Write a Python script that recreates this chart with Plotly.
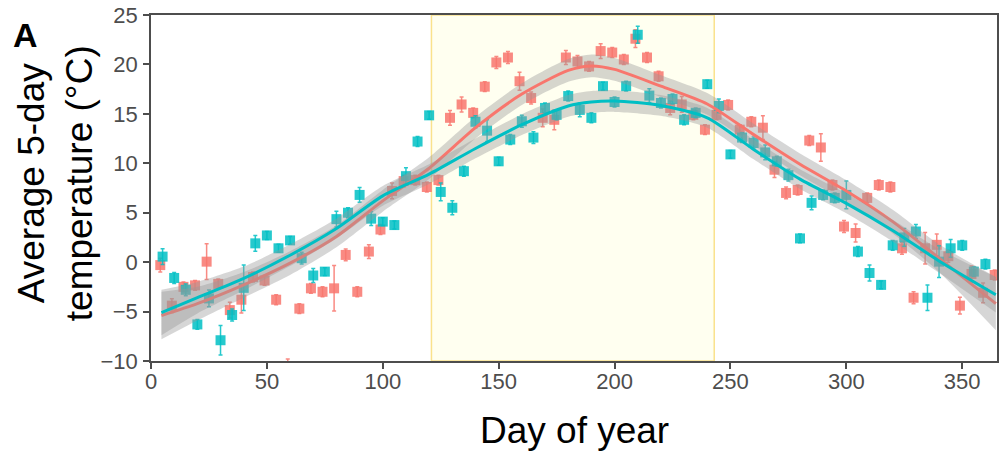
import plotly.graph_objects as go

# ---- data ----
days = [4.5, 9.5, 14.5, 19.5, 24.5, 29.5, 34.5, 39.5, 44.5, 49.5,
        54.5, 59.5, 64.5, 69.5, 74.5, 79.5, 84.5, 89.5, 94.5, 99.5,
        104.5, 109.5, 114.5, 119.5, 124.5, 129.5, 134.5, 139.5, 144.5, 149.5,
        154.5, 159.5, 164.5, 169.5, 174.5, 179.5, 184.5, 189.5, 194.5, 199.5,
        204.5, 209.5, 214.5, 219.5, 224.5, 229.5, 234.5, 239.5, 244.5, 249.5,
        254.5, 259.5, 264.5, 269.5, 274.5, 279.5, 284.5, 289.5, 294.5, 299.5,
        304.5, 309.5, 314.5, 319.5, 324.5, 329.5, 334.5, 339.5, 344.5, 349.5,
        354.5, 359.5, 364.5]

red_temp = [-0.3, -4.4, -2.5, -2.35, 0.05, -2.2, -4.85, -3.8, -1.5, -1.85,
            -3.8, -10.8, -4.7, -2.65, -3.0, -2.65, 0.73, -3.0, 1.07, 3.3,
            7.2, 8.2, 8.3, 7.6, 8.3, 14.6, 15.95, 15.1, 17.75, 20.2,
            20.7, 18.3, 16.6, 14.6, 14.4, 20.7, 20.3, 19.8, 21.35, 21.2,
            20.5, 22.6, 20.7, 18.8, 15.6, 15.95, 14.9, 13.4, 14.9, 15.9,
            13.4, 14.2, 13.6, 9.35, 7.0, 7.3, 12.3, 11.6, 7.8, 3.6,
            2.95, 6.5, 7.8, 7.6, 1.4, -3.6, 1.4, 1.75, 0.6, -4.4,
            -1.2, -3.1, -1.3]

red_err = [0.7, 0.7, 0.5, 0.5, 1.8, 0.5, 0.8, 1.35, 0.5, 0.5,
           0.5, 1.0, 0.5, 0.5, 0.5, 2.3, 0.6, 0.5, 0.7, 0.5,
           0.8, 0.6, 0.5, 0.5, 0.5, 0.75, 0.75, 0.5, 0.5, 0.6,
           0.6, 0.9, 0.6, 0.9, 1.0, 0.7, 0.6, 0.5, 0.75, 0.5,
           0.5, 0.9, 0.5, 0.5, 0.7, 0.8, 0.5, 0.5, 0.5, 0.5,
           0.5, 0.5, 1.2, 0.8, 0.6, 0.5, 0.5, 1.4, 0.5, 0.6,
           0.9, 0.5, 0.5, 0.5, 0.6, 0.6, 1.6, 1.1, 0.6, 0.85,
           0.8, 1.0, 0.5]

teal_temp = [0.56, -1.6, -2.8, -6.3, -3.67, -7.9, -5.35, -2.6, 1.9, 2.7,
             1.4, 2.2, 0.4, -1.35, -0.96, 4.35, 5.0, 6.8, 4.4, 4.1,
             3.75, 8.7, 12.2, 14.85, 7.1, 5.5, 9.2, 14.2, 13.3, 10.2,
             12.4, 14.25, 12.6, 15.6, 14.9, 16.8, 15.4, 14.6, 17.8, 16.2,
             17.8, 23.0, 16.85, 16.1, 16.5, 14.4, 15.1, 18.0, 15.8, 10.9,
             12.6, 12.05, 11.1, 10.2, 8.8, 2.4, 6.0, 6.8, 6.5, 6.8,
             1.07, -1.1, -2.3, 1.7, 2.5, 3.1, -3.6, 0.05, 1.4, 1.7,
             -0.96, -0.2, None]

teal_err = [0.8, 0.55, 0.6, 0.5, 0.85, 1.5, 0.6, 2.3, 0.8, 0.4,
            0.4, 0.4, 0.6, 0.7, 0.4, 0.8, 0.5, 0.75, 0.7, 0.4,
            0.4, 0.85, 0.5, 0.4, 0.9, 0.7, 0.5, 0.6, 1.1, 0.4,
            0.5, 0.6, 0.6, 0.5, 0.5, 0.5, 0.7, 0.5, 0.4, 0.5,
            0.5, 0.85, 0.7, 0.5, 0.5, 0.5, 0.5, 0.4, 0.7, 0.4,
            0.5, 0.6, 0.75, 0.5, 0.6, 0.45, 0.7, 0.5, 0.5, 1.4,
            0.5, 0.8, 0.4, 0.5, 0.9, 0.7, 1.3, 1.6, 0.9, 0.5,
            0.5, 0.5, 0.0]

# smoothed fits
fit_days = [4.5, 20, 40, 60, 80, 100, 120, 140, 160, 180, 190, 200,
            220, 240, 260, 280, 300, 320, 340, 364.5]
red_fit = [-5.4, -4.2, -2.3, -0.1, 2.6, 6.2, 9.5, 13.6, 17.0, 19.4, 19.85, 19.5,
           17.8, 16.0, 12.9, 9.9, 7.2, 4.1, 0.4, -4.2]
red_band = [2.4, 1.7, 1.3, 1.2, 1.1, 1.1, 1.1, 1.1, 1.1, 1.15, 1.15, 1.15,
            1.1, 1.1, 1.1, 1.1, 1.1, 1.2, 1.4, 2.7]
teal_fit = [-5.1, -3.6, -1.65, 0.7, 3.4, 6.7, 8.9, 11.5, 13.9, 15.8, 16.2, 16.3,
            15.85, 14.6, 11.4, 8.4, 5.95, 3.2, 0.12, -3.3]
teal_band = [2.3, 1.6, 1.2, 1.1, 1.0, 1.0, 1.0, 1.0, 1.05, 1.1, 1.1, 1.1,
             1.05, 1.0, 1.0, 1.0, 1.0, 1.1, 1.2, 1.8]

summer_start, summer_end = 121, 243
x_ticks = [0, 50, 100, 150, 200, 250, 300, 350]
y_ticks = [-10, -5, 0, 5, 10, 15, 20, 25]

# ---- styling ----
RED = "#F8766D"
TEAL = "#00BFC4"
RED_A = "rgba(248,118,109,0.85)"
TEAL_A = "rgba(0,191,196,0.85)"
BAND = "rgba(153,153,153,0.4)"
FONT = "Liberation Sans, Arial, sans-serif"
DODGE = 0.5
SMOOTH = 0.7

W, H = 1001, 456
ML, MR, MT, MB = 151, 2, 15, 95
PW, PH = W - ML - MR, H - MT - MB


def px_to_paper(px, py):
    return (px - ML) / PW, (H - MB - py) / PH


fig = go.Figure()

# points with error bars
for name, vals, errs, col, off in [("red", red_temp, red_err, RED_A, -DODGE),
                                   ("teal", teal_temp, teal_err, TEAL_A, DODGE)]:
    fig.add_trace(go.Scatter(
        x=[d + off for d in days], y=vals, mode="markers",
        marker=dict(symbol="square", size=10, color=col, line=dict(width=0)),
        error_y=dict(type="data", array=errs, visible=True, color=col,
                     thickness=1.5, width=2),
        showlegend=False, hoverinfo="x+y", name=name))

# smooth ribbons and lines (red group then teal group)
for fit, band, col in [(red_fit, red_band, RED), (teal_fit, teal_band, TEAL)]:
    lower = [f - b for f, b in zip(fit, band)]
    upper = [f + b for f, b in zip(fit, band)]
    fig.add_trace(go.Scatter(x=fit_days, y=lower, mode="lines",
                             line=dict(width=0, shape="spline", smoothing=SMOOTH),
                             showlegend=False, hoverinfo="skip"))
    fig.add_trace(go.Scatter(x=fit_days, y=upper, mode="lines", fill="tonexty",
                             fillcolor=BAND,
                             line=dict(width=0, shape="spline", smoothing=SMOOTH),
                             showlegend=False, hoverinfo="skip"))
    fig.add_trace(go.Scatter(x=fit_days, y=fit, mode="lines",
                             line=dict(color=col, width=3, shape="spline", smoothing=SMOOTH),
                             showlegend=False))

# summer shading
fig.add_shape(type="rect", xref="x", yref="paper", x0=summer_start, x1=summer_end,
              y0=0, y1=1, fillcolor="#FFFFF0", line=dict(color="#FAE28C", width=1.5),
              layer="below")

axis_common = dict(showline=True, linecolor="#4D4D4D", linewidth=1.5, mirror=True,
                   ticks="outside", ticklen=6, tickwidth=1.5, tickcolor="#4D4D4D",
                   showgrid=False, zeroline=False,
                   tickfont=dict(family=FONT, size=22, color="#4D4D4D"))

fig.update_xaxes(range=[0, 365], tickvals=x_ticks, ticklabelstandoff=-6, **axis_common)
fig.update_yaxes(range=[-10, 25], tickvals=y_ticks, ticklabelstandoff=1, **axis_common)

ax, ay = px_to_paper(25, 35)
tx, ty = px_to_paper(55, 183)
bx, by = px_to_paper(575, 430)
fig.update_layout(
    width=W, height=H,
    margin=dict(l=ML, r=MR, t=MT, b=MB, pad=0),
    plot_bgcolor="white", paper_bgcolor="white",
    annotations=[
        dict(text="<b>A</b>", x=ax, y=ay, xref="paper", yref="paper",
             showarrow=False, font=dict(family=FONT, size=34, color="black"),
             xanchor="center", yanchor="middle"),
        dict(text="Average 5-day<br>temperature (°C)", x=tx, y=ty,
             xref="paper", yref="paper", textangle=-90, showarrow=False,
             font=dict(family=FONT, size=37, color="black"),
             xanchor="center", yanchor="middle"),
        dict(text="Day of year", x=bx, y=by, xref="paper", yref="paper",
             showarrow=False, font=dict(family=FONT, size=37, color="black"),
             xanchor="center", yanchor="middle"),
    ],
)

fig.write_html("out.html")
